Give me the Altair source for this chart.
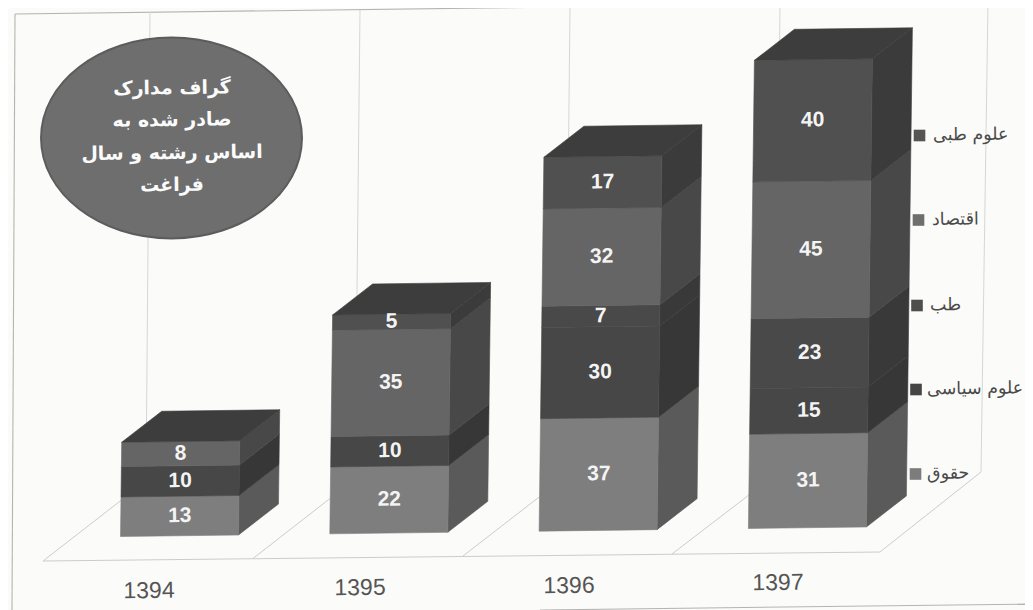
import altair as alt
import pandas as pd

# ---- data ----
years = ["1394", "1395", "1396", "1397"]
series = ["حقوق", "علوم سیاسی", "طب", "اقتصاد", "علوم طبی"]
v_hoquq = [13, 22, 37, 31]
v_siasi = [10, 10, 30, 15]
v_teb = [0, 0, 7, 23]
v_eqtesad = [8, 35, 32, 45]
v_tebi = [0, 5, 17, 40]
all_values = [v_hoquq, v_siasi, v_teb, v_eqtesad, v_tebi]

front_colors = ["#7e7e7e", "#474747", "#494949", "#656565", "#505050"]
side_colors = ["#5a5a5a", "#373737", "#393939", "#484848", "#3b3b3b"]
top_color = "#3d3d3d"
legend_colors = ["#7c7c7c", "#454545", "#4e4e4e", "#6e6e6e", "#555555"]
title_lines = ["گراف مدارک", "صادر شده به", "اساس رشته و سال", "فراغت"]

W, H = 1017, 602
TILT = 0.0128
UNIT = 3.04
BAR_W = 118
DEPTH_X, DEPTH_Y = 40, 31
X0, Y0, STEP = 120.5, 536.5, 209.3


def proj(i, u, d, v):
    """bar index, across-bar fraction, depth fraction, stacked value -> page position"""
    x = X0 + STEP * i + BAR_W * u + DEPTH_X * d + TILT * UNIT * v
    y = Y0 - TILT * STEP * i - TILT * BAR_W * u - DEPTH_Y * d - UNIT * v
    return x, y


poly, labels = [], []
pid = 0


def add(corners, color):
    global pid
    for k, (u, d, v, i) in enumerate(corners + corners[:1]):
        x, y = proj(i, u, d, v)
        poly.append(dict(pid=f"p{pid:03d}", k=k, x=x, y=y, c=color))
    pid += 1


for i in range(len(years)):
    base = 0
    for s, vals in enumerate(all_values):
        val = vals[i]
        if val == 0:
            continue
        top = base + val
        add([(1, 0, base, i), (1, 1, base, i), (1, 1, top, i), (1, 0, top, i)], side_colors[s])
        add([(0, 0, base, i), (1, 0, base, i), (1, 0, top, i), (0, 0, top, i)], front_colors[s])
        lx, ly = proj(i, 0.5, 0, base + val / 2)
        labels.append(dict(x=lx, y=ly, t=str(val)))
        base = top
    add([(0, 0, base, i), (1, 0, base, i), (1, 1, base, i), (0, 1, base, i)], top_color)

poly_df = pd.DataFrame(poly)
labels_df = pd.DataFrame(labels)

sx = alt.Scale(domain=[8, 8 + W], range=[0, W], nice=False, zero=False)
sy = alt.Scale(domain=[8, 8 + H], range=[0, H], nice=False, zero=False)
X = alt.X("x:Q", scale=sx, axis=None)
Y = alt.Y("y:Q", scale=sy, axis=None)
X2 = alt.X2("x2:Q")
Y2 = alt.Y2("y2:Q")

# frame, floor, walls
frame_x = [[15, 1033], [15, 12], [540, 1033]]
frame_y = [[14, 1], [14, 610], [610, 604]]
frame_df = pd.DataFrame([dict(x=a[0], x2=a[1], y=b[0], y2=b[1]) for a, b in zip(frame_x, frame_y)])
frame = alt.Chart(frame_df).mark_rule(color="#b4b4b4", strokeWidth=1.1).encode(x=X, x2=X2, y=Y, y2=Y2)

wall_x = [150, 360, 570, 780, 988]
wall_b = [146, 355, 565, 775, 981]
wall_t = [12, 10, 7, 5, 2]
wall_e = [481, 479, 477, 475, 472]
wall_df = pd.DataFrame([dict(x=a, x2=b, y=t, y2=e) for a, b, t, e in zip(wall_x, wall_b, wall_t, wall_e)])
walls = alt.Chart(wall_df).mark_rule(color="#d6d6d6", strokeWidth=1).encode(x=X, x2=X2, y=Y, y2=Y2)

floor_fx = [43, 253, 463, 672, 880]
floor_fy = [561, 558.5, 556, 554, 552]
floor_rows = [dict(x=43, x2=880, y=561, y2=552)]
for fx, fy, bx, by in zip(floor_fx, floor_fy, wall_b, wall_e):
    floor_rows.append(dict(x=fx, x2=bx, y=fy, y2=by))
floor = alt.Chart(pd.DataFrame(floor_rows)).mark_rule(color="#cccccc", strokeWidth=1).encode(x=X, x2=X2, y=Y, y2=Y2)

bars = alt.Chart(poly_df).mark_line(strokeWidth=0.6, interpolate="linear").encode(
    x=X, y=Y,
    order="k:Q",
    detail="pid:N",
    fill=alt.Fill("c:N", scale=None),
    stroke=alt.Stroke("c:N", scale=None),
)

value_text = alt.Chart(labels_df).mark_text(
    font="Liberation Sans", fontWeight="bold", fontSize=21, color="#f4f4f4", angle=359.3
).encode(x=X, y=Y, text="t:N")

year_df = pd.DataFrame({"x": [149, 360, 569, 778], "y": [591, 588, 586, 583], "t": years})
year_text = alt.Chart(year_df).mark_text(
    font="Liberation Sans", fontSize=23, color="#555555", angle=359.3
).encode(x=X, y=Y, text="t:N")

leg_sq_x = [915.5, 916, 917, 918.5, 919.5]
leg_y = [474, 389.5, 305.5, 220, 135.5]
leg_tx = [927, 927, 930, 932, 933]
leg_df = pd.DataFrame({"x": leg_sq_x, "y": leg_y, "tx": leg_tx, "t": series, "c": legend_colors})
leg_sq = alt.Chart(leg_df).mark_square(size=135, opacity=1, filled=True).encode(
    x=X, y=Y, fill=alt.Fill("c:N", scale=None)
)
leg_text = alt.Chart(leg_df).mark_text(
    font="DejaVu Sans", fontSize=17.5, color="#4a4a4a", align="left", baseline="middle", angle=359.3
).encode(x=alt.X("tx:Q", scale=sx, axis=None), y=Y, text="t:N")

ell_df = pd.DataFrame({"x": [171.5], "y": [138]})
ellipse = alt.Chart(ell_df).mark_point(
    shape="M-1,0 A1,0.77 0 1 1 1,0 A1,0.77 0 1 1 -1,0 Z",
    size=68100, filled=True, fill="#6e6e6e", stroke="#5c5c5c", opacity=1,
).encode(x=X, y=Y)

title_df = pd.DataFrame({"x": [172, 172, 172, 172], "y": [88, 120, 153, 185], "t": title_lines})
title_text = alt.Chart(title_df).mark_text(
    font="DejaVu Sans", fontWeight="bold", fontSize=19, color="#fbfbfb", angle=359.3
).encode(x=X, y=Y, text="t:N")

chart = alt.layer(
    frame, walls, floor, bars, value_text, year_text, leg_sq, leg_text, ellipse, title_text
).properties(
    width=W, height=H, background="#fbfbf9", padding=0,
    autosize=alt.AutoSizeParams(type="none"),
).configure_view(stroke=None)

chart.save("out.html", embed_options={"renderer": "svg", "actions": False})
